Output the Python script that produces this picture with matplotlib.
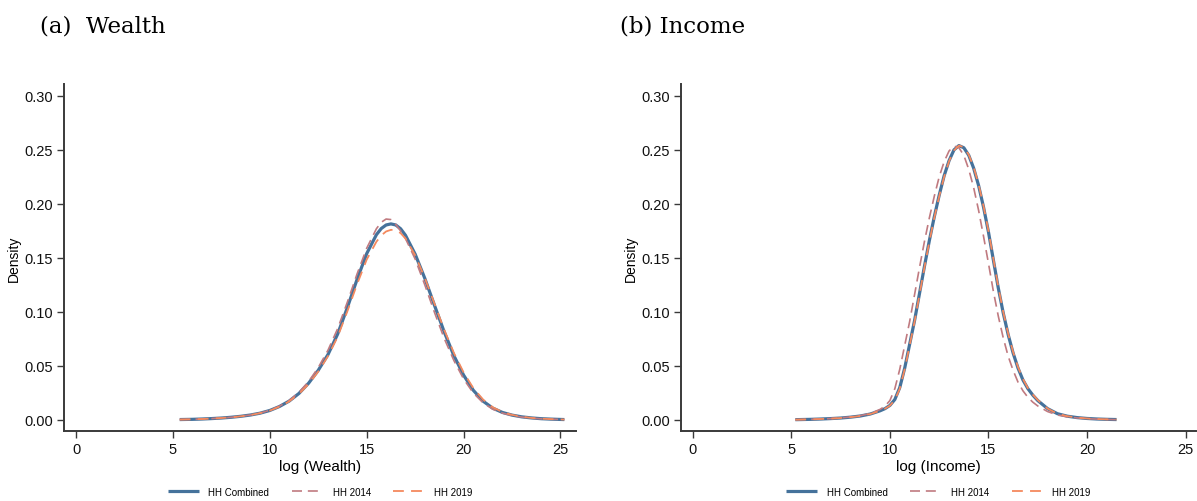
import matplotlib
matplotlib.use("Agg")
import matplotlib.pyplot as plt

# ---------------- data ----------------
wealth_x = [5.35, 6.0, 6.5, 7.0, 7.5, 8.0, 8.5, 9.0, 9.5, 10.0, 10.5, 11.0, 11.5, 12.0,
            12.5, 13.0, 13.5, 14.0, 14.5, 15.0, 15.5, 15.75, 16.0, 16.25, 16.5, 16.75,
            17.0, 17.5, 18.0, 18.5, 19.0, 19.5, 20.0, 20.5, 21.0, 21.5, 22.0, 22.5,
            23.0, 23.5, 24.0, 24.5, 25.0, 25.2]
wealth_comb = [0.0004, 0.0006, 0.0009, 0.0013, 0.0018, 0.0025, 0.0034, 0.0046, 0.0063, 0.0088,
               0.0125, 0.0175, 0.0245, 0.0340, 0.0460, 0.0605, 0.0795, 0.1040, 0.1300, 0.1540,
               0.1715, 0.1772, 0.1805, 0.1815, 0.1805, 0.1770, 0.1710, 0.1535, 0.1310, 0.1060,
               0.0815, 0.0595, 0.0415, 0.0275, 0.0175, 0.0110, 0.0070, 0.0045, 0.0029, 0.0019,
               0.0012, 0.0008, 0.0005, 0.0004]
wealth_2014 = [0.0004, 0.0006, 0.0009, 0.0013, 0.0018, 0.0025, 0.0034, 0.0046, 0.0064, 0.0090,
               0.0128, 0.0180, 0.0255, 0.0355, 0.0485, 0.0645, 0.0845, 0.1090, 0.1350, 0.1590,
               0.1770, 0.1830, 0.1860, 0.1855, 0.1810, 0.1750, 0.1680, 0.1490, 0.1250, 0.0995,
               0.0755, 0.0550, 0.0380, 0.0250, 0.0160, 0.0100, 0.0064, 0.0041, 0.0027, 0.0017,
               0.0011, 0.0007, 0.0005, 0.0004]
wealth_2019 = [0.0004, 0.0006, 0.0009, 0.0013, 0.0018, 0.0025, 0.0034, 0.0046, 0.0063, 0.0087,
               0.0123, 0.0172, 0.0240, 0.0332, 0.0448, 0.0590, 0.0770, 0.1005, 0.1255, 0.1485,
               0.1650, 0.1708, 0.1745, 0.1760, 0.1757, 0.1730, 0.1680, 0.1525, 0.1315, 0.1075,
               0.0835, 0.0620, 0.0440, 0.0295, 0.0190, 0.0118, 0.0074, 0.0047, 0.0030, 0.0019,
               0.0012, 0.0008, 0.0005, 0.0004]

income_x = [5.2, 5.5, 6.0, 6.5, 7.0, 7.5, 8.0, 8.5, 9.0, 9.5, 9.75, 10.0, 10.25, 10.5, 10.75,
            11.0, 11.25, 11.5, 11.75, 12.0, 12.25, 12.5, 12.75, 13.0, 13.25, 13.5, 13.75,
            14.0, 14.25, 14.5, 14.75, 15.0, 15.25, 15.5, 15.75, 16.0, 16.25, 16.5, 16.75,
            17.0, 17.25, 17.5, 18.0, 18.5, 19.0, 19.5, 20.0, 20.5, 21.0, 21.5]
income_comb = [0.0003, 0.0004, 0.0006, 0.0009, 0.0013, 0.0018, 0.0026, 0.0037, 0.0055, 0.0085,
               0.0105, 0.0135, 0.0190, 0.0300, 0.0480, 0.0700, 0.0920, 0.1170, 0.1420, 0.1660,
               0.1880, 0.2080, 0.2260, 0.2400, 0.2500, 0.2540, 0.2520, 0.2450, 0.2330, 0.2170,
               0.1970, 0.1740, 0.1480, 0.1220, 0.0990, 0.0790, 0.0620, 0.0480, 0.0370, 0.0290,
               0.0230, 0.0180, 0.0105, 0.0058, 0.0035, 0.0022, 0.0014, 0.0009, 0.0006, 0.0004]
income_2014 = [0.0003, 0.0004, 0.0006, 0.0009, 0.0013, 0.0019, 0.0028, 0.0040, 0.0060, 0.0098,
               0.0128, 0.0180, 0.0290, 0.0470, 0.0690, 0.0910, 0.1160, 0.1410, 0.1650, 0.1870,
               0.2070, 0.2250, 0.2390, 0.2490, 0.2535, 0.2520, 0.2450, 0.2320, 0.2150, 0.1940,
               0.1700, 0.1450, 0.1190, 0.0960, 0.0760, 0.0590, 0.0460, 0.0350, 0.0270, 0.0210,
               0.0165, 0.0130, 0.0078, 0.0046, 0.0029, 0.0019, 0.0012, 0.0008, 0.0005, 0.0003]
income_2019 = [0.0003, 0.0004, 0.0006, 0.0009, 0.0013, 0.0018, 0.0026, 0.0037, 0.0055, 0.0085,
               0.0105, 0.0133, 0.0185, 0.0290, 0.0470, 0.0690, 0.0910, 0.1160, 0.1410, 0.1650,
               0.1870, 0.2070, 0.2250, 0.2395, 0.2495, 0.2540, 0.2525, 0.2455, 0.2340, 0.2180,
               0.1980, 0.1750, 0.1490, 0.1230, 0.1000, 0.0800, 0.0630, 0.0490, 0.0380, 0.0295,
               0.0235, 0.0185, 0.0105, 0.0058, 0.0035, 0.0022, 0.0014, 0.0009, 0.0006, 0.0004]

series_labels = ["HH Combined", "HH 2014", "HH 2019"]
x_ticks = [0, 5, 10, 15, 20, 25]
y_ticks = [0.00, 0.05, 0.10, 0.15, 0.20, 0.25, 0.30]
panel_titles = ["(a)  Wealth", "(b) Income"]
x_labels = ["log (Wealth)", "log (Income)"]

# ---------------- style ----------------
c_comb = "#45729b"
c_2014 = "#c07a80"
c_2019 = "#f4895e"
axis_col = "#3a3a3a"
tick_font = ["Liberation Sans Narrow", "Liberation Sans", "DejaVu Sans"]
title_font = ["DejaVu Serif", "Liberation Serif"]

W, H = 1197, 502
fig = plt.figure(figsize=(W / 100, H / 100), dpi=100)

def px_axes(x0, x1, ytop, ybot):
    return [x0 / W, (H - ybot) / H, (x1 - x0) / W, (ybot - ytop) / H]

axL = fig.add_axes(px_axes(64, 576, 85, 432))
axR = fig.add_axes(px_axes(681, 1196, 85, 432))

panels = [
    (axL, wealth_x, wealth_comb, wealth_2014, wealth_2019, (-0.62, 25.8)),
    (axR, income_x, income_comb, income_2014, income_2019, (-0.6, 25.53)),
]

for i, (ax, xs, yc, y14, y19, xl) in enumerate(panels):
    l1, = ax.plot(xs, yc, color=c_comb, lw=2.3, solid_capstyle="butt", zorder=3)
    l2, = ax.plot(xs, y14, color=c_2014, lw=1.2, dashes=(6, 3.5), zorder=4)
    l3, = ax.plot(xs, y19, color=c_2019, lw=1.3, dashes=(6, 4), zorder=5)
    ax.set_xlim(*xl)
    ax.set_ylim(-0.0102, 0.311)
    ax.set_xticks(x_ticks)
    ax.set_yticks(y_ticks)
    ax.set_xticklabels([str(t) for t in x_ticks], family=tick_font, fontsize=10.5)
    ax.set_yticklabels([f"{t:.2f}" for t in y_ticks], family=tick_font, fontsize=10.5)
    for s in ["top", "right"]:
        ax.spines[s].set_visible(False)
    for s in ["left", "bottom"]:
        ax.spines[s].set_color(axis_col)
        ax.spines[s].set_linewidth(1.4)
    ax.tick_params(direction="out", length=5, width=1, color=axis_col,
                   labelcolor="#111111", pad=3)
    ax.set_ylabel("Density", family=tick_font, fontsize=10, labelpad=2)
    ax.set_xlabel(x_labels[i], family=tick_font, fontsize=11, labelpad=2)
    ax.legend([l1, l2, l3], series_labels, loc="upper center",
              bbox_to_anchor=(0.5, -0.135), ncol=3, frameon=False,
              prop={"family": tick_font, "size": 7}, handlelength=3.2,
              columnspacing=2.3, handletextpad=1.0)

fig.text(40 / W, 1 - 27 / H, panel_titles[0], family=title_font,
         fontsize=16.5, va="center", ha="left")
fig.text(620 / W, 1 - 27 / H, panel_titles[1], family=title_font,
         fontsize=16.5, va="center", ha="left")

fig.savefig("out.png", dpi=100)
